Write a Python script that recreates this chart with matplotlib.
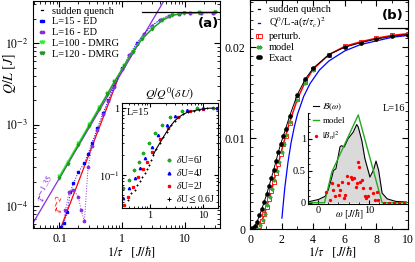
import matplotlib
matplotlib.use('Agg')
import matplotlib.pyplot as plt
from matplotlib.lines import Line2D
from matplotlib.ticker import LogLocator, NullFormatter, MultipleLocator

plt.rcParams['font.family'] = ['Liberation Serif', 'DejaVu Serif']
plt.rcParams['mathtext.fontset'] = 'stix'
plt.rcParams['font.size'] = 8
plt.rcParams['xtick.direction'] = 'in'
plt.rcParams['ytick.direction'] = 'in'
plt.rcParams['xtick.top'] = True
plt.rcParams['ytick.right'] = True
plt.rcParams['axes.linewidth'] = 0.8

# ---- panel (a): Q/L vs 1/tau, log-log ----
sudden_a = 0.0241
sudden_a_x = [2.1, 40]

dmrg120_x = [0.1, 0.135, 0.2, 0.3, 0.43, 0.58, 0.75, 1.08, 1.46, 2.1, 3.03, 4.36, 6.3, 9.6, 16.7, 30]
dmrg120_y = [2.2e-4, 3.3e-4, 5.6e-4, 9.7e-4, 1.58e-3, 2.36e-3, 3.35e-3, 5.3e-3, 7.8e-3, 1.14e-2, 1.51e-2,
             1.91e-2, 2.2e-2, 2.33e-2, 2.38e-2, 2.39e-2]
dmrg100_x = [0.1, 0.135, 0.2, 0.3, 0.43, 0.58, 0.75, 1.08, 1.46, 2.1, 3.03, 4.36, 6.3, 9.6, 16.7, 30]
dmrg100_y = [2.35e-4, 3.5e-4, 5.9e-4, 1.02e-3, 1.64e-3, 2.42e-3, 3.42e-3, 5.4e-3, 7.9e-3, 1.15e-2, 1.52e-2,
             1.92e-2, 2.21e-2, 2.34e-2, 2.39e-2, 2.4e-2]

ed15_x = [0.105, 0.118, 0.133, 0.15, 0.167, 0.2, 0.25, 0.286, 0.33, 0.4, 0.5, 0.6, 0.75, 1.0, 1.3, 1.7,
          2.2, 3.0, 4.0, 5.5, 8.0, 12, 18, 28]
ed15_y = [5.5e-5, 6.2e-5, 8.5e-5, 1.5e-4, 1.9e-4, 2.6e-4, 3.4e-4, 4.4e-4, 6.0e-4, 9.0e-4, 1.4e-3, 2.0e-3,
          3.0e-3, 4.9e-3, 7.2e-3, 1.0e-2, 1.3e-2, 1.65e-2, 1.95e-2, 2.18e-2, 2.3e-2, 2.35e-2, 2.37e-2, 2.37e-2]
ed16_x = [0.111, 0.125, 0.143, 0.167, 0.2, 0.222, 0.25, 0.286, 0.33, 0.4, 0.5, 0.6, 0.75, 1.0, 1.3, 1.7,
          2.2, 3.0, 4.0, 5.5, 8.0, 12, 18, 28]
ed16_y = [5.0e-5, 9.0e-5, 1.5e-4, 1.6e-4, 1.3e-4, 9.0e-5, 6.5e-5, 3.0e-4, 5.5e-4, 8.5e-4, 1.35e-3, 1.95e-3,
          2.9e-3, 4.8e-3, 7.1e-3, 9.9e-3, 1.29e-2, 1.64e-2, 1.94e-2, 2.17e-2, 2.29e-2, 2.34e-2, 2.36e-2, 2.36e-2]

pow135_x = [0.037, 4.7]
pow135_y = [6.0e-5, 3.4e-2]
pow2_x = [0.105, 0.85]
pow2_y = [5.4e-5, 3.6e-3]

# ---- inset (a): Q/Q0 for several dU ----
du6_x = [0.32, 0.41, 0.50, 0.63, 0.75, 0.97, 1.24, 1.66, 2.38, 3.96, 7.6, 15]
du6_y = [0.063, 0.084, 0.119, 0.158, 0.21, 0.30, 0.42, 0.56, 0.74, 0.91, 0.99, 1.0]
du4_x = [0.32, 0.41, 0.52, 0.65, 0.81, 1.08, 1.43, 2.06, 3.0, 5.0, 10, 18]
du4_y = [0.045, 0.063, 0.089, 0.126, 0.177, 0.26, 0.40, 0.56, 0.75, 0.92, 0.99, 1.0]
du2_x = [0.33, 0.39, 0.48, 0.60, 0.73, 0.87, 1.12, 1.54, 2.22, 3.42, 5.7, 10, 18]
du2_y = [0.035, 0.047, 0.067, 0.093, 0.121, 0.158, 0.22, 0.34, 0.51, 0.74, 0.90, 0.98, 1.0]
du06_x = [0.39, 0.44, 0.52, 0.58, 0.65, 0.72, 0.81, 0.89, 0.97, 1.06, 1.16, 1.3, 1.54, 1.8, 2.06, 2.5,
          2.96, 3.5, 4.25, 5.2, 6.6, 8.5, 11.8, 16]
du06_y = [0.042, 0.053, 0.06, 0.07, 0.08, 0.093, 0.106, 0.123, 0.141, 0.17, 0.2, 0.24, 0.30, 0.37, 0.44,
          0.55, 0.65, 0.73, 0.81, 0.87, 0.91, 0.95, 0.99, 1.0]

# ---- panel (b): linear scale ----
sudden_b = 0.0221
sudden_b_x = [8.1, 10]

exact_x = [0.0, 0.15, 0.3, 0.45, 0.6, 0.75, 0.9, 1.05, 1.2, 1.35, 1.5, 1.65, 1.8, 1.95, 2.1, 2.25, 2.5,
           3.0, 3.5, 4.0, 5.0, 6.0, 7.0, 8.0, 9.0, 10.0]
exact_y = [0.0, 0.0001, 0.0003, 0.0008, 0.0015, 0.0022, 0.0030, 0.0038, 0.0047, 0.0056, 0.0065, 0.0075,
           0.0085, 0.0094, 0.0102, 0.0110, 0.0124, 0.0148, 0.0165, 0.0177, 0.0192, 0.0200, 0.0205, 0.0209,
           0.0212, 0.0214]
pert_x = [0.45, 0.6, 0.75, 0.9, 1.05, 1.2, 1.35, 1.5, 1.65, 1.8, 1.95, 2.1, 2.25, 2.5, 3.0, 3.5, 4.0,
          5.0, 6.0, 7.0, 8.0, 9.0, 10.0]
pert_y = [0.0, 0.0003, 0.0009, 0.0016, 0.0024, 0.0033, 0.0042, 0.0052, 0.0062, 0.0072, 0.0083, 0.0093,
          0.0102, 0.0117, 0.0143, 0.0162, 0.0176, 0.0192, 0.0201, 0.0206, 0.0210, 0.0213, 0.0215]
model_x = [0.5, 0.65, 0.8, 0.95, 1.1, 1.25, 1.4, 1.55, 1.7, 1.85, 2.0, 2.15, 2.3, 2.55, 3.0, 3.5, 4.0,
           5.0, 6.0, 7.0, 8.0, 9.0, 10.0]
model_y = [0.0, 0.0004, 0.0010, 0.0017, 0.0026, 0.0035, 0.0044, 0.0054, 0.0064, 0.0074, 0.0085, 0.0094,
           0.0103, 0.0118, 0.0142, 0.0161, 0.0175, 0.0191, 0.0200, 0.0205, 0.0209, 0.0212, 0.0214]
quad_x = [2.02, 2.2, 2.4, 2.6, 2.8, 3.0, 3.4, 3.8, 4.4, 5.0, 6.0, 7.0, 8.0, 9.0, 10.0]
quad_y = [0.0012, 0.0045, 0.0073, 0.0095, 0.0112, 0.0126, 0.0146, 0.0160, 0.0175, 0.0185, 0.0196, 0.0203,
          0.0207, 0.0211, 0.0213]

# ---- inset (b): spectral function ----
omega_b = [-2, -1.6, 0.06, 1.37, 2.0, 2.7, 3.0, 3.5, 3.9, 4.3, 4.6, 5.15, 5.9, 6.9, 7.6, 7.9, 8.6, 9.2,
           10.2, 10.9, 11.4, 11.9, 12.6, 13.6, 15.3, 17.5]
spec_b = [0.01, 0.02, 0.05, 0.1, 0.2, 0.4, 0.5, 0.53, 0.7, 0.87, 0.89, 0.87, 1.0, 1.1, 1.22, 1.18, 0.97,
          0.69, 0.40, 0.51, 0.65, 0.51, 0.15, 0.06, 0.02, 0.01]
omega_m = [-2, 1.25, 2.7, 7.9, 12.6, 17.5]
spec_m = [0, 0, 0.48, 1.37, 0, 0]
bn_x = [1.5, 2.7, 3.0, 2.35, 3.3, 4.0, 4.3, 4.1, 5.0, 5.3, 4.6, 5.6, 5.9, 6.5, 6.7, 7.1, 7.4, 7.6, 7.8,
        8.0, 8.2, 8.6, 8.9, 9.2, 9.5, 9.9, 10.2, 10.8, 11.5, 11.2, 11.8, 13.0, 14.0, 15.0, 16.0, 17.0]
bn_y = [0.17, 0.30, 0.2, 0.05, 0.1, 0.28, 0.2, 0.12, 0.07, 0.12, 0.33, 0.42, 0.31, 0.40, 0.37, 0.38, 0.24,
        0.30, 0.64, 0.56, 0.33, 0.35, 0.23, 0.1, 0.07, 0.1, 0.23, 0.15, 0.16, 0.05, 0.05, 0.0, 0.0, 0.0, 0.0, 0.0]

blue = '#0000ff'
purple = '#8a2be2'
lime = '#33ee33'
dgreen = '#1f9a1f'
red = '#ff0000'
ms_small = 1.7

fig = plt.figure(figsize=(4.15, 2.62), dpi=100)

# panel a
ax = fig.add_axes([33 / 415, 34 / 262, 187 / 415, 227 / 262])
ax.set_xscale('log')
ax.set_yscale('log')
ax.set_xlim(0.038, 36)
ax.set_ylim(5.4e-5, 3.3e-2)
ax.plot(pow135_x, pow135_y, color=purple, lw=0.9)
ax.plot(pow2_x, pow2_y, color=red, lw=0.9)
ax.plot(ed15_x, ed15_y, ':', color=blue, lw=0.7, marker='s', ms=ms_small)
ax.plot(ed16_x, ed16_y, ':', color=purple, lw=0.7, marker='o', ms=ms_small)
ax.plot(dmrg100_x, dmrg100_y, '-', color=lime, lw=0.9, marker='v', ms=2.0)
ax.plot(dmrg120_x, dmrg120_y, '-', color=dgreen, lw=0.9, marker='v', ms=2.0)
ax.plot(sudden_a_x, [sudden_a, sudden_a], color='black', lw=0.9)
ax.set_xticks([0.1, 1, 10])
ax.set_xticklabels(['0.1', '1', '10'])
ax.set_yticks([1e-4, 1e-3, 1e-2])
ax.set_yticklabels([r'$10^{-4}$', r'$10^{-3}$', r'$10^{-2}$'])
ax.xaxis.set_minor_locator(LogLocator(base=10, subs=range(2, 10), numticks=20))
ax.yaxis.set_minor_locator(LogLocator(base=10, subs=range(2, 10), numticks=20))
ax.xaxis.set_minor_formatter(NullFormatter())
ax.yaxis.set_minor_formatter(NullFormatter())
ax.tick_params(which='major', length=4, labelsize=8.5)
ax.tick_params(which='minor', length=2)
ax.text(0.068, 0.17, r'$\tau^{-1.35}$', transform=ax.transAxes, color=purple, fontsize=9, rotation=60,
        ha='center', va='center')
ax.text(0.15, 0.10, r'$\tau^{-2}$', transform=ax.transAxes, color=red, fontsize=9, rotation=66,
        ha='center', va='center')
ax.text(0.995, 0.885, '(a)', transform=ax.transAxes, ha='right', fontsize=9.5, fontweight='bold',
        family='DejaVu Sans')
handles_a = [Line2D([], [], color='black', lw=0.9),
             Line2D([], [], color=blue, ls=':', marker='s', ms=ms_small),
             Line2D([], [], color=purple, ls=':', marker='o', ms=ms_small),
             Line2D([], [], color=lime, marker='v', ms=2.0),
             Line2D([], [], color=dgreen, marker='v', ms=2.0)]
ax.legend(handles_a, ['sudden quench', 'L=15 - ED', 'L=16 - ED', 'L=100 - DMRG', 'L=120 - DMRG'],
          loc='upper left', frameon=False, fontsize=7.5, handlelength=0.8, handletextpad=0.5,
          labelspacing=0.15, borderaxespad=0.3, numpoints=2, borderpad=0.2)

# inset a
axi = fig.add_axes([122 / 415, 54 / 262, 96 / 415, 105 / 262])
axi.set_xscale('log')
axi.set_yscale('log')
axi.set_xlim(0.3, 19)
axi.set_ylim(0.032, 1.19)
axi.plot(du06_x, du06_y, color='black', ls='none', marker='+', ms=2.0, mew=0.7)
axi.plot(du2_x, du2_y, color=red, ls='none', marker='s', ms=1.4)
axi.plot(du4_x, du4_y, color=blue, ls='none', marker='^', ms=1.7)
axi.plot(du6_x, du6_y, color='#22aa22', ls='none', marker='P', ms=1.8)
axi.plot(du06_x[10:], du06_y[10:], color='black', lw=0.8)
axi.set_xticks([1, 10])
axi.set_xticklabels(['1', '10'])
axi.set_yticks([0.1, 1])
axi.set_yticklabels([r'$10^{-1}$', '1'])
axi.xaxis.set_minor_locator(LogLocator(base=10, subs=range(2, 10), numticks=20))
axi.yaxis.set_minor_locator(LogLocator(base=10, subs=range(2, 10), numticks=20))
axi.xaxis.set_minor_formatter(NullFormatter())
axi.yaxis.set_minor_formatter(NullFormatter())
axi.tick_params(which='major', length=3, labelsize=7.5, pad=2)
axi.tick_params(which='minor', length=1.5)
axi.text(0.05, 0.95, 'L=15', transform=axi.transAxes, va='top', fontsize=7.5)
handles_i = [Line2D([], [], color='#22aa22', ls='none', marker='P', ms=2.0),
             Line2D([], [], color=blue, ls='none', marker='^', ms=2.0),
             Line2D([], [], color=red, ls='none', marker='s', ms=1.6),
             Line2D([], [], color='black', ls='none', marker='+', ms=2.2, mew=0.7)]
axi.legend(handles_i, [r'$\delta$U=6J', r'$\delta$U=4J', r'$\delta$U=2J', r'$\delta$U$\leq$0.6J'],
           loc='lower right', frameon=False, fontsize=7, handlelength=0.6, handletextpad=0.4,
           labelspacing=0.2, borderaxespad=0.1, borderpad=0.2)
fig.text(170 / 415, 1 - 93 / 262, r'$Q/Q^0(\delta U)$', ha='center', va='center', fontsize=8.5)

fig.text(0.024, 1 - 73 / 262, r'$Q/L\ [J]$', rotation=90, ha='center', va='center', fontsize=10)
fig.text(131 / 415, 2 / 262, r'$1/\tau\quad[J/\hbar]$', ha='center', va='bottom', fontsize=9)

# panel b
bx = fig.add_axes([250 / 415, 33 / 262, 158 / 415, 229 / 262])
bx.set_xlim(0, 10)
bx.set_ylim(0, 0.0252)
bx.plot(quad_x, quad_y, color=blue, lw=0.9)
bx.plot(pert_x, pert_y, color=red, lw=1.1, marker='s', ms=2.2, mfc='white', mew=0.6)
bx.plot(model_x, model_y, color='#33aa33', lw=0.9, ls='none', marker='D', ms=1.6)
bx.plot(exact_x, exact_y, color='black', lw=0.7, marker='o', ms=2.3)
bx.plot(sudden_b_x, [sudden_b, sudden_b], color='black', lw=0.9)
bx.set_xticks([0, 2, 4, 6, 8, 10])
bx.set_yticks([0, 0.01, 0.02])
bx.set_yticklabels(['0', '0.01', '0.02'])
bx.xaxis.set_minor_locator(MultipleLocator(1))
bx.yaxis.set_minor_locator(MultipleLocator(0.001))
bx.tick_params(which='major', length=4, labelsize=8.5)
bx.tick_params(which='minor', length=2)
bx.text(0.97, 0.96, '(b)', transform=bx.transAxes, ha='right', va='top', fontsize=9.5, fontweight='bold',
        family='DejaVu Sans')
handles_b = [Line2D([], [], color='black', lw=0.9),
             Line2D([], [], color=blue, lw=0.9),
             Line2D([], [], color=red, ls='none', marker='s', ms=2.2, mfc='white', mew=0.6),
             Line2D([], [], color='#33aa33', ls='none', marker='D', ms=1.6),
             Line2D([], [], color='black', lw=0.7, marker='o', ms=2.3)]
bx.legend(handles_b, ['sudden quench', r'Q$^0$/L-a($\tau/\tau_c$)$^2$', 'perturb.', 'model', 'Exact'],
          loc='upper left', frameon=False, fontsize=7.5, handlelength=0.8, handletextpad=0.5,
          labelspacing=0.15, borderaxespad=0.3, numpoints=2, borderpad=0.2)
fig.text(332 / 415, 2 / 262, r'$1/\tau\quad[J/\hbar]$', ha='center', va='bottom', fontsize=9)

# inset b
bi = fig.add_axes([308 / 415, 58 / 262, 99 / 415, 91 / 262])
bi.set_xlim(-2, 17.5)
bi.set_ylim(-0.02, 1.4)
bi.fill_between(omega_b, spec_b, 0, color='#dadada', lw=0)
bi.plot(omega_b, spec_b, color='black', lw=0.8)
bi.plot(omega_m, spec_m, color='#22aa22', lw=1.0)
bi.plot(bn_x, bn_y, ls='none', marker='o', color=red, ms=1.4)
for side in ['top', 'right']:
    bi.spines[side].set_visible(False)
bi.patch.set_alpha(0)
bi.set_xticks([0, 10])
bi.set_yticks([0, 0.5, 1])
bi.set_yticklabels(['0', '0.5', '1'])
bi.xaxis.set_minor_locator(MultipleLocator(2))
bi.yaxis.set_minor_locator(MultipleLocator(0.1))
bi.tick_params(which='major', length=3, labelsize=7.5, pad=1.5)
bi.tick_params(which='both', top=False, right=False)
bi.tick_params(which='minor', length=1.5)
bi.text(0.565, -0.04, r'$\omega\ [J/\hbar]$', transform=bi.transAxes, ha='right', va='top', fontsize=7)
bi.text(0.98, 1.1, 'L=16', transform=bi.transAxes, ha='right', va='top', fontsize=7.5)
handles_bi = [Line2D([], [], color='black', lw=0.8),
              Line2D([], [], color='#22aa22', lw=1.0),
              Line2D([], [], color=red, ls='none', marker='o', ms=1.4)]
bi.legend(handles_bi, [r'$\mathcal{B}(\omega)$', 'model', r'$|B_n|^2$'], loc='upper left',
          bbox_to_anchor=(0.0, 1.18), frameon=False, fontsize=6.5, handlelength=0.6, handletextpad=0.4,
          labelspacing=0.45, borderpad=0.1)

fig.savefig('out.png', dpi=100)
